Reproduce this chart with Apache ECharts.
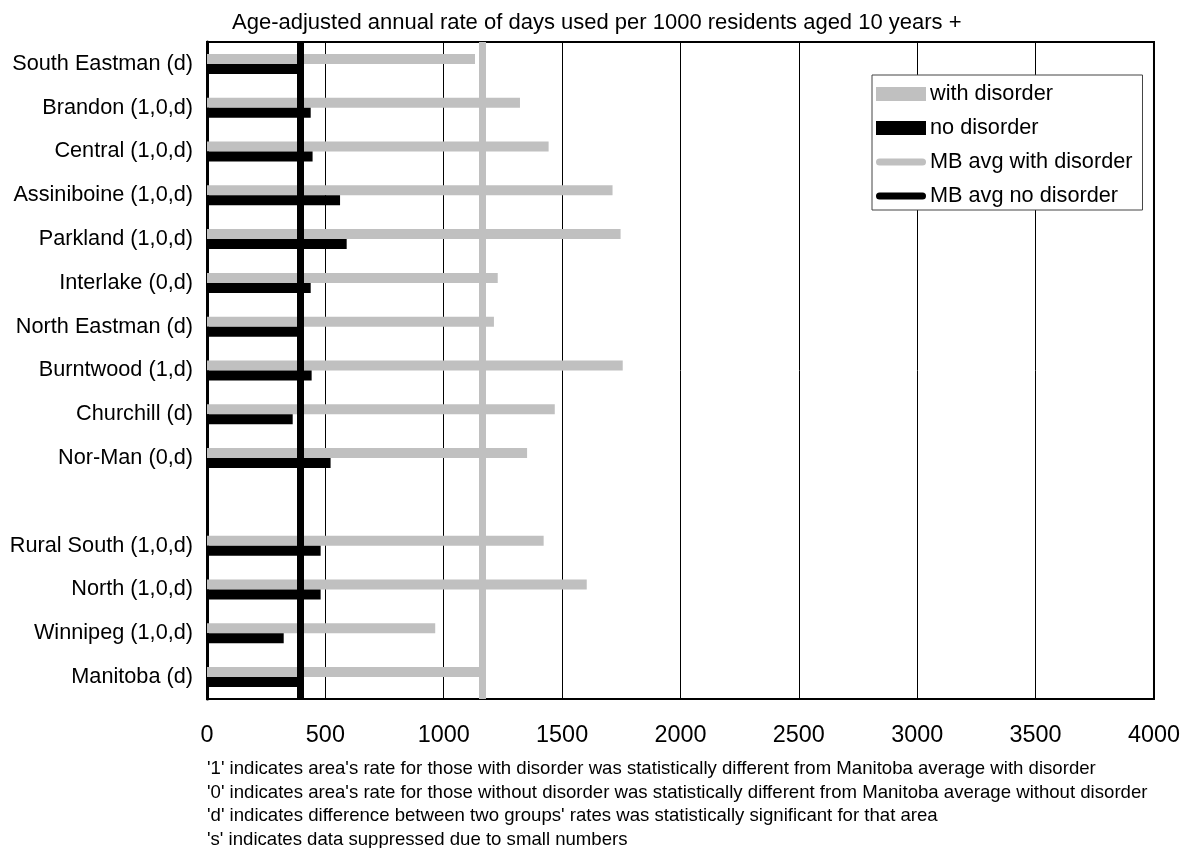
<!DOCTYPE html>
<html>
<head>
<meta charset="utf-8">
<script src="https://cdn.jsdelivr.net/npm/echarts@6/dist/echarts.min.js"></script>
<style>
html,body{margin:0;padding:0;background:#fff;}
#main{width:1183px;height:848px;}
</style>
</head>
<body>
<div id="main"></div>
<script>
const categories = ['South Eastman (d)','Brandon (1,0,d)','Central (1,0,d)','Assiniboine (1,0,d)','Parkland (1,0,d)','Interlake (0,d)','North Eastman (d)','Burntwood (1,d)','Churchill (d)','Nor-Man (0,d)','','Rural South (1,0,d)','North (1,0,d)','Winnipeg (1,0,d)','Manitoba (d)'];
const withDisorder = [1132,1322,1443,1713,1747,1228,1212,1756,1469,1352,null,1422,1604,964,1163];
const noDisorder = [395,438,446,562,590,438,390,442,362,522,null,480,480,324,393];
const mbAvgWith = 1163;
const mbAvgNo = 393;
const xTicks = [0,500,1000,1500,2000,2500,3000,3500,4000];
const subtitle = 'Age-adjusted annual rate of days used per 1000 residents aged 10 years +';
const footnotes = [
 "'1' indicates area's rate for those with disorder was statistically different from Manitoba average with disorder",
 "'0' indicates area's rate for those without disorder was statistically different from Manitoba average without disorder",
 "'d' indicates difference between two groups' rates was statistically significant for that area",
 "'s' indicates data suppressed due to small numbers"
];
const FONT = '"Liberation Sans", Arial, sans-serif';
const lineIcon = 'path://M3.5,0 L46.5,0 A3.5,3.5 0 0 1 46.5,7 L3.5,7 A3.5,3.5 0 0 1 3.5,0 Z';
const chart = echarts.init(document.getElementById('main'));
chart.setOption({
  animation:false,
  textStyle:{fontFamily:FONT},
  title:{text:subtitle,left:227,top:7,textStyle:{fontSize:22,fontWeight:'normal',color:'#000',fontFamily:FONT}},
  grid:{left:207,right:29,top:42,bottom:149,show:true,borderColor:'#000',borderWidth:2,backgroundColor:'transparent'},
  legend:{
    orient:'vertical',left:872,top:75,itemWidth:50,itemHeight:14,itemGap:12,
    padding:[8,10,3,4],backgroundColor:'#fff',borderColor:'#444',borderWidth:1,borderRadius:0,
    symbolKeepAspect:true,
    textStyle:{fontSize:21.7,color:'#000',fontFamily:FONT,padding:[0,0,0,-1]},
    data:[
      {name:'with disorder',icon:'rect'},
      {name:'no disorder',icon:'rect'},
      {name:'MB avg with disorder',icon:lineIcon,itemStyle:{color:'#c0c0c0',borderWidth:0}},
      {name:'MB avg no disorder',icon:lineIcon,itemStyle:{color:'#000',borderWidth:0}}
    ]
  },
  xAxis:{type:'value',min:0,max:4000,interval:500,
    axisLine:{show:false},axisTick:{show:false},
    axisLabel:{margin:25,fontSize:23.4,color:'#000',fontFamily:FONT,formatter:v=>xTicks.includes(v)?String(v):''},
    splitLine:{show:true,lineStyle:{color:'#000',width:1}}
  },
  yAxis:{type:'category',data:categories,inverse:true,
    axisLine:{show:true,lineStyle:{color:'#000',width:3}},axisTick:{show:false},
    axisLabel:{margin:14,fontSize:21.7,color:'#000',fontFamily:FONT}
  },
  series:[
    {name:'with disorder',type:'bar',data:withDisorder,barWidth:10,barGap:'0%',itemStyle:{color:'#c0c0c0'},z:2},
    {name:'no disorder',type:'bar',data:noDisorder,barWidth:10,barGap:'0%',itemStyle:{color:'#000'},z:2},
    {name:'MB avg with disorder',type:'line',data:[],symbol:'none',showSymbol:false,
      lineStyle:{color:'#c0c0c0',width:7},itemStyle:{color:'#c0c0c0'},
      markLine:{silent:true,symbol:'none',label:{show:false},lineStyle:{color:'#c0c0c0',width:7,type:'solid'},data:[{xAxis:mbAvgWith}]},z:4},
    {name:'MB avg no disorder',type:'line',data:[],symbol:'none',showSymbol:false,
      lineStyle:{color:'#000',width:7},itemStyle:{color:'#000'},
      markLine:{silent:true,symbol:'none',label:{show:false},lineStyle:{color:'#000',width:7,type:'solid'},data:[{xAxis:mbAvgNo}]},z:4}
  ],
  graphic:footnotes.map((t,i)=>({type:'text',left:207,top:759.5+i*23.5,style:{text:t,fontSize:18.6,fill:'#000',fontFamily:FONT}}))
});
</script>
</body>
</html>
